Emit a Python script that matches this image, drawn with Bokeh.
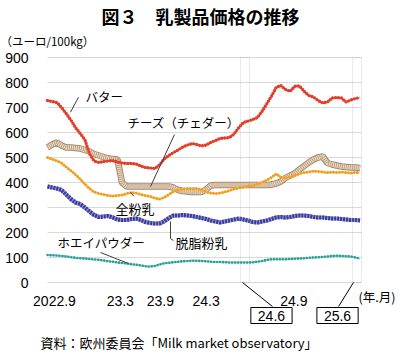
from bokeh.plotting import figure
from bokeh.models import Range1d, FixedTicker, Label, Arrow, BoxAnnotation
from bokeh.embed import file_html
from bokeh.resources import INLINE

# half-month periods starting Sep 2022 (0 = 2022.9 start, 1 unit = 1 month)
periods = [i * 0.5 for i in range(68)]

butter = [728, 724, 720, 700, 676, 650, 620, 596, 572, 515,
          486, 480, 484, 486, 488, 482, 478, 476, 476, 474,
          466, 460, 458, 456, 470, 494, 508, 520, 530, 542,
          550, 556, 552, 546, 550, 560, 568, 576, 578, 580,
          594, 620, 640, 646, 652, 660, 685, 715, 745, 780,
          788, 772, 765, 785, 786, 765, 748, 742, 728, 718,
          722, 738, 740, 738, 722, 730, 736, 740]

cheese = [540, 552, 560, 548, 540, 540, 538, 536, 530, 524,
          514, 508, 502, 496, 494, 492, 398, 384, 384, 384,
          384, 384, 384, 384, 384, 384, 384, 380, 370, 366,
          364, 362, 362, 362, 372, 388, 390, 390, 390, 390,
          390, 390, 390, 390, 390, 390, 390, 390, 392, 396,
          404, 418, 428, 436, 452, 466, 480, 492, 500, 504,
          478, 472, 468, 464, 462, 460, 460, 458]

wmp = [500, 494, 486, 478, 462, 448, 432, 414, 394, 376,
       362, 356, 352, 348, 346, 348, 350, 356, 360, 358,
       352, 348, 344, 338, 334, 340, 352, 364, 370, 374,
       376, 376, 376, 372, 362, 358, 356, 358, 362, 368,
       374, 378, 382, 386, 388, 394, 400, 410, 420, 434,
       422, 418, 424, 428, 436, 440, 442, 446, 444, 442,
       440, 442, 440, 442, 440, 438, 440, 440]

smp = [384, 380, 376, 370, 352, 334, 320, 314, 300, 284,
       270, 262, 264, 266, 260, 252, 250, 250, 254, 256,
       250, 242, 238, 236, 236, 244, 258, 268, 268, 270,
       268, 266, 262, 258, 254, 248, 244, 240, 244, 248,
       252, 256, 252, 248, 242, 240, 244, 248, 254, 260,
       262, 260, 262, 266, 268, 268, 266, 262, 260, 260,
       258, 256, 256, 254, 252, 250, 250, 248]

whey = [110, 109, 108, 106, 104, 101, 99, 97, 96, 94,
        92, 91, 88, 85, 83, 80, 78, 76, 73, 71,
        68, 65, 64, 66, 72, 77, 79, 81, 83, 85,
        86, 87, 87, 86, 85, 83, 82, 82, 81, 80,
        80, 80, 80, 80, 81, 83, 86, 90, 93, 93,
        93, 93, 94, 95, 96, 97, 99, 100, 101, 102,
        104, 106, 107, 106, 105, 104, 100, 96]

y_ticks = [0, 100, 200, 300, 400, 500, 600, 700, 800, 900]
x_tick_pos = [0.75, 7.8, 12.1, 17.0, 26.4]
x_tick_labels = ["2022.9", "23.3", "23.9", "24.3", "24.9"]
highlight_boxes = [(20.68, 21.65, "24.6"), (32.69, 33.65, "25.6")]
x_end = 33.65

JP = "Noto Sans CJK JP"
NUM = "Liberation Sans"

# frame covers the whole canvas; axes are pinned inside it with fixed_location
p = figure(width=400, height=356, x_range=Range1d(-5.037, 37.829), y_range=Range1d(-296, 1128),
           output_backend="svg", toolbar_location=None,
           min_border_left=0, min_border_right=0, min_border_top=0, min_border_bottom=0)
p.outline_line_color = None
p.xgrid.visible = False
p.ygrid.ticker = FixedTicker(ticks=y_ticks)
p.ygrid.grid_line_color = "#d9d9d9"
p.ygrid.grid_line_width = 1
p.ygrid.cross_bounds = (0, x_end)

p.yaxis.fixed_location = 0
p.yaxis.ticker = FixedTicker(ticks=y_ticks)
p.yaxis.axis_line_color = None
p.yaxis.major_tick_line_color = None
p.yaxis.minor_tick_line_color = None
p.yaxis.major_label_text_font = NUM
p.yaxis.major_label_text_font_size = "14px"
p.yaxis.major_label_text_color = "black"
p.yaxis.major_label_standoff = 13

p.xaxis.fixed_location = 0
p.xaxis.ticker = FixedTicker(ticks=x_tick_pos)
p.xaxis.major_label_overrides = {k: v for k, v in zip(x_tick_pos, x_tick_labels)}
p.xaxis.axis_line_color = None
p.xaxis.major_tick_line_color = None
p.xaxis.minor_tick_line_color = None
p.xaxis.major_label_text_font = NUM
p.xaxis.major_label_text_font_size = "14px"
p.xaxis.major_label_text_color = "black"
p.xaxis.major_label_standoff = 7

# highlight columns
for l, r, _ in highlight_boxes:
    p.add_layout(BoxAnnotation(left=l, right=r, bottom=0, top=900, fill_alpha=0,
                               line_color="#8a90b0", line_width=1, line_dash="2 1"))

# series
p.line(periods, whey, line_color="#a6dcd6", line_width=2)
p.line(periods, whey, line_color="#26a095", line_width=2.6, line_dash="0 3", line_cap="round")

p.line(periods, smp, line_color="#9c9dd6", line_width=4.2)
p.line(periods, smp, line_color="#3a3d9c", line_width=4.2, line_dash="2 1")

p.line(periods, cheese, line_color="#a5835f", line_width=6.5)
p.line(periods, cheese, line_color="#ece2d3", line_width=4.5)
p.line(periods, cheese, line_color="#bb9c7c", line_width=4.5, line_dash="1 1")

p.line(periods, wmp, line_color="#fbd7a0", line_width=2)
p.line(periods, wmp, line_color="#f0a020", line_width=3, line_dash="0 3", line_cap="round")

p.line(periods, butter, line_color="#f6b2a4", line_width=2)
p.line(periods, butter, line_color="#e13f2a", line_width=3.4, line_dash="0 3", line_cap="round")


def lab(x, y, text, size="12.5px", font=JP, align="left", **kw):
    p.add_layout(Label(x=x, y=y, text=text, text_font=font, text_font_size=size,
                       text_align=align, text_baseline="middle", text_color="black", **kw))


def seg(x0, y0, x1, y1, color="#404040"):
    p.add_layout(Arrow(x_start=x0, y_start=y0, x_end=x1, y_end=y1, end=None,
                       line_color=color, line_width=1))


lab(16.40, 1068, "図３　乳製品価格の推移", size="18px", align="center", text_font_style="bold")
lab(-5.04, 968, "（ユーロ/100kg）", size="11.5px")

lab(4.07, 744, "バター")
seg(3.32, 741, 2.46, 681)
lab(8.57, 640, "チーズ（チェダー）")
seg(13.61, 592, 11.04, 384)
lab(7.29, 296, "全粉乳", size="13px")
seg(8.9, 361, 9.25, 345)
lab(13.72, 160, "脱脂粉乳", size="13px")
seg(13.18, 244, 13.18, 176)
seg(13.18, 176, 13.5, 168)
lab(1.07, 160, "ホエイパウダー")
seg(5.68, 120, 8.68, 76)

lab(33.33, -56, "(年.月)", size="12.5px")

box_pad = dict(left=7, right=7, top=3, bottom=3)
lab(24.0, -132, highlight_boxes[0][2], size="14px", font=NUM, align="center",
    border_line_color="black", border_line_width=1, background_fill_color="white", padding=box_pad)
seg(20.9, 0, 24.11, -96, color="black")
lab(31.08, -132, highlight_boxes[1][2], size="14px", font=NUM, align="center",
    border_line_color="black", border_line_width=1, background_fill_color="white", padding=box_pad)
seg(32.79, 0, 31.19, -96, color="black")

lab(-0.75, -240, "資料：欧州委員会「Milk market observatory」", size="13px")

open("out.html", "w").write(file_html(p, INLINE))
